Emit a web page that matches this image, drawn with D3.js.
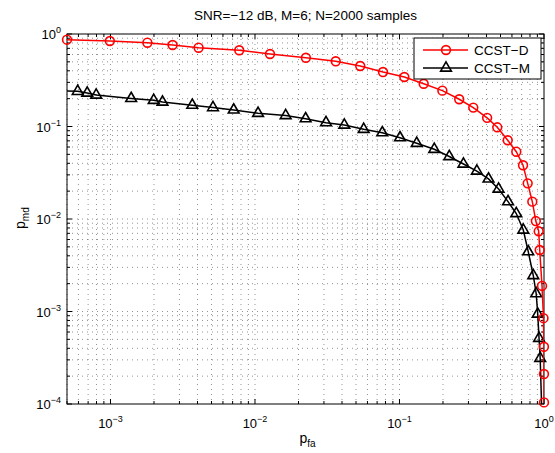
<!DOCTYPE html>
<html>
<head>
<meta charset="utf-8">
<script src="https://cdn.jsdelivr.net/npm/d3@7"></script>
<style>
  body { margin: 0; background: #fff; }
  svg { display: block; font-family: "Liberation Sans", Arial, sans-serif; }
</style>
</head>
<body>
<svg id="chart" width="555" height="453"></svg>
<script>
// data (p_fa, p_md)
const ccstD_pfa = [5e-4, 0.00099, 0.0018, 0.00269, 0.00407, 0.00778, 0.0127, 0.0225, 0.0362, 0.0535,
  0.0769, 0.108, 0.147, 0.198, 0.259, 0.324, 0.404, 0.475, 0.561, 0.643,
  0.716, 0.771, 0.830, 0.878, 0.919, 0.934, 0.969, 0.992, 0.999, 0.9995, 1.0];
const ccstD_pmd = [0.868, 0.840, 0.805, 0.760, 0.711, 0.667, 0.608, 0.554, 0.507, 0.451,
  0.388, 0.343, 0.290, 0.244, 0.197, 0.160, 0.124, 0.098, 0.071, 0.0534,
  0.0381, 0.0243, 0.0154, 0.0095, 0.00736, 0.00462, 0.00189, 8.47e-4, 4.16e-4, 2.11e-4, 1.04e-4];

const ccstM_pfa = [4.5e-4, 5.93e-4, 6.90e-4, 7.96e-4, 0.00139, 0.00199, 0.00229, 0.00368, 0.00512, 0.00712,
  0.0105, 0.0163, 0.0224, 0.0310, 0.0415, 0.0565, 0.0760, 0.1008, 0.1316, 0.174,
  0.221, 0.277, 0.343, 0.413, 0.485, 0.564, 0.643, 0.719, 0.778, 0.843,
  0.883, 0.905, 0.924, 0.941, 0.966];
const ccstM_pmd = [0.244, 0.240, 0.230, 0.219, 0.201, 0.192, 0.184, 0.170, 0.160, 0.151,
  0.139, 0.1315, 0.1214, 0.110, 0.1038, 0.0933, 0.0857, 0.0757, 0.0658, 0.0567,
  0.0474, 0.0393, 0.0330, 0.0271, 0.0211, 0.0154, 0.01147, 0.0076, 0.00443, 0.00245,
  0.00156, 9.4e-4, 5.13e-4, 3.12e-4, 8e-5];

const seriesNames = ["CCST\u2212D", "CCST\u2212M"];
const xTickExp = [-3, -2, -1, 0];
const yTickExp = [-4, -3, -2, -1, 0];
const titleText = "SNR=\u221212 dB, M=6; N=2000 samples";

const margin = { top: 34, left: 67, right: 11, bottom: 49 };
const W = 555, H = 453;
const xdim = W - margin.left - margin.right;
const ydim = H - margin.top - margin.bottom;

const xScale = d3.scaleLog().domain([5e-4, 1]).range([margin.left, margin.left + xdim]);
const yScale = d3.scaleLog().domain([1e-4, 1]).range([margin.top + ydim, margin.top]);

const svg = d3.select("#chart");

const minorTicks = (lo, hi) => {
  const out = [];
  for (let e = Math.floor(Math.log10(lo)); e <= Math.ceil(Math.log10(hi)); e++) {
    for (let m = 2; m <= 9; m++) {
      const v = m * Math.pow(10, e);
      if (v >= lo * 0.9999 && v <= hi * 1.0001) out.push(v);
    }
  }
  return out;
};

const addGrid = () => {
  const g = svg.append("g").attr("stroke", "#000").attr("stroke-width", 0.7)
    .attr("stroke-dasharray", "1,4").attr("opacity", 0.6);
  const xs = minorTicks(5e-4, 1).concat(xTickExp.map(e => Math.pow(10, e))).filter(v => v < 1);
  const ys = minorTicks(1e-4, 1).concat(yTickExp.map(e => Math.pow(10, e))).filter(v => v > 1e-4 && v < 1);
  g.selectAll(".gx").data(xs).enter().append("line")
    .attr("x1", d => xScale(d)).attr("x2", d => xScale(d))
    .attr("y1", margin.top).attr("y2", margin.top + ydim);
  g.selectAll(".gy").data(ys).enter().append("line")
    .attr("y1", d => yScale(d)).attr("y2", d => yScale(d))
    .attr("x1", margin.left).attr("x2", margin.left + xdim);
};

const addAxis = () => {
  const g = svg.append("g").attr("stroke", "#000").attr("stroke-width", 1);
  const x0 = margin.left, x1 = margin.left + xdim, y0 = margin.top, y1 = margin.top + ydim;
  // major + minor ticks, inward, all four sides
  const xMaj = xTickExp.map(e => Math.pow(10, e));
  const yMaj = yTickExp.map(e => Math.pow(10, e));
  const xMin = minorTicks(5e-4, 1), yMin = minorTicks(1e-4, 1);
  [[xMaj, 5], [xMin, 3]].forEach(([vals, len]) => {
    vals.forEach(v => {
      const x = xScale(v);
      g.append("line").attr("x1", x).attr("x2", x).attr("y1", y1).attr("y2", y1 - len);
      g.append("line").attr("x1", x).attr("x2", x).attr("y1", y0).attr("y2", y0 + len);
    });
  });
  [[yMaj, 5], [yMin, 3]].forEach(([vals, len]) => {
    vals.forEach(v => {
      const y = yScale(v);
      g.append("line").attr("y1", y).attr("y2", y).attr("x1", x0).attr("x2", x0 + len);
      g.append("line").attr("y1", y).attr("y2", y).attr("x1", x1).attr("x2", x1 - len);
    });
  });
  svg.append("rect").attr("x", x0).attr("y", y0).attr("width", xdim).attr("height", ydim)
    .attr("fill", "none").attr("stroke", "#000").attr("stroke-width", 1);

  // tick labels 10^k
  xTickExp.forEach(e => {
    const t = svg.append("text").attr("x", xScale(Math.pow(10, e))).attr("y", 428)
      .attr("text-anchor", "middle").attr("font-size", 13);
    t.append("tspan").text("10");
    t.append("tspan").attr("dy", -6).attr("font-size", 9).text(e === 0 ? "0" : "\u2212" + (-e));
  });
  yTickExp.forEach(e => {
    const t = svg.append("text").attr("x", 61).attr("y", yScale(Math.pow(10, e)) + 5)
      .attr("text-anchor", "end").attr("font-size", 13);
    t.append("tspan").text("10");
    t.append("tspan").attr("dy", -6).attr("font-size", 9).text(e === 0 ? "0" : "\u2212" + (-e));
  });
};

const addLines = () => {
  svg.append("clipPath").attr("id", "clipLine").append("rect")
    .attr("x", margin.left).attr("y", margin.top).attr("width", xdim).attr("height", ydim);

  const line = d3.line().x(d => xScale(d[0])).y(d => yScale(d[1]));
  const dData = ccstD_pfa.map((v, i) => [v, ccstD_pmd[i]]);
  const mData = ccstM_pfa.map((v, i) => [v, ccstM_pmd[i]]);
  const inside = d => d[0] >= 5e-4 && d[1] >= 1e-4;

  svg.append("path").datum(mData).attr("d", line).attr("clip-path", "url(#clipLine)")
    .attr("fill", "none").attr("stroke", "#000").attr("stroke-width", 1.5);
  svg.append("g").selectAll("path").data(mData.filter(inside)).enter().append("path")
    .attr("d", d3.symbol(d3.symbolTriangle, 50))
    .attr("transform", d => `translate(${xScale(d[0])},${yScale(d[1])})`)
    .attr("fill", "none").attr("stroke", "#000").attr("stroke-width", 1.6);

  svg.append("path").datum(dData).attr("d", line).attr("clip-path", "url(#clipLine)")
    .attr("fill", "none").attr("stroke", "#ff0000").attr("stroke-width", 1.5);
  svg.append("g").selectAll("circle").data(dData.filter(inside)).enter().append("circle")
    .attr("cx", d => xScale(d[0])).attr("cy", d => yScale(d[1])).attr("r", 4.4)
    .attr("fill", "none").attr("stroke", "#ff0000").attr("stroke-width", 1.6);
};

const addLegend = () => {
  const g = svg.append("g");
  g.append("rect").attr("x", 414).attr("y", 38).attr("width", 127).attr("height", 41)
    .attr("fill", "#fff").attr("stroke", "#000").attr("stroke-width", 1);
  const rows = [{ y: 50, color: "#ff0000", sym: "circle" }, { y: 68, color: "#000", sym: "tri" }];
  rows.forEach((r, i) => {
    g.append("line").attr("x1", 423).attr("x2", 468).attr("y1", r.y).attr("y2", r.y)
      .attr("stroke", r.color).attr("stroke-width", 1.5);
    if (r.sym === "circle") {
      g.append("circle").attr("cx", 446).attr("cy", r.y).attr("r", 4.4)
        .attr("fill", "none").attr("stroke", r.color).attr("stroke-width", 1.6);
    } else {
      g.append("path").attr("d", d3.symbol(d3.symbolTriangle, 50))
        .attr("transform", `translate(446,${r.y})`)
        .attr("fill", "none").attr("stroke", r.color).attr("stroke-width", 1.6);
    }
    g.append("text").attr("x", 474).attr("y", r.y + 5).attr("font-size", 13.5).text(seriesNames[i]);
  });
};

const addText = () => {
  svg.append("text").attr("x", margin.left + xdim / 2).attr("y", 20)
    .attr("text-anchor", "middle").attr("font-size", 13.5).text(titleText);
  const xl = svg.append("text").attr("x", margin.left + xdim / 2 - 6).attr("y", 443)
    .attr("font-size", 14);
  xl.append("tspan").text("p");
  xl.append("tspan").attr("dy", 4).attr("font-size", 10).text("fa");
  const yl = svg.append("text").attr("transform", `translate(25,${margin.top + ydim / 2 + 10}) rotate(-90)`)
    .attr("font-size", 14);
  yl.append("tspan").text("p");
  yl.append("tspan").attr("dy", 4).attr("font-size", 10).text("md");
};

addGrid();
addAxis();
addLines();
addLegend();
addText();
</script>
</body>
</html>
